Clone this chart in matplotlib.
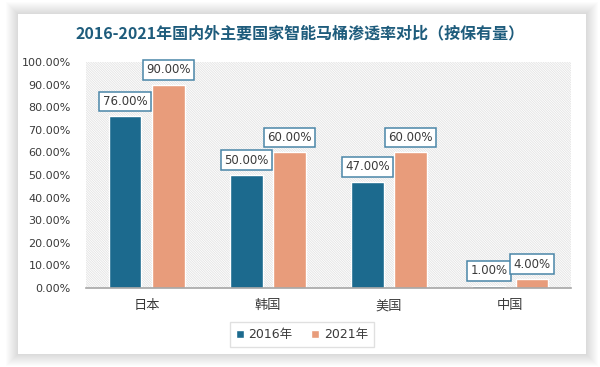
import numpy as np
import matplotlib.pyplot as plt
from matplotlib.patches import Rectangle

plt.rcParams['font.family'] = ['DejaVu Sans', 'Noto Sans CJK SC']
plt.rcParams['hatch.linewidth'] = 0.6

countries = ['日本', '韩国', '美国', '中国']
rate_2016 = [0.76, 0.50, 0.47, 0.01]
rate_2021 = [0.90, 0.60, 0.60, 0.04]
series_names = ['2016年', '2021年']
colors = ['#1c6a8e', '#e89c7b']

W, H = 600, 367
fig = plt.figure(figsize=(6, 3.67), dpi=100)
fig.patch.set_facecolor('white')

# card with soft shadow
cx0, cy0, cx1, cy1 = 18, 14, 586, 354
for i in range(12, 0, -1):
    fig.add_artist(Rectangle(((cx0 - i) / W, 1 - (cy1 + i) / H),
                             (cx1 - cx0 + 2 * i) / W, (cy1 - cy0 + 2 * i) / H,
                             transform=fig.transFigure, facecolor='black',
                             edgecolor='none', alpha=0.01, zorder=0))
fig.add_artist(Rectangle((cx0 / W, 1 - cy1 / H), (cx1 - cx0) / W, (cy1 - cy0) / H,
                         transform=fig.transFigure, facecolor='white',
                         edgecolor='none', zorder=0.5))

ax = fig.add_axes([86 / W, 79 / H, 485 / W, 226 / H])
ax.set_zorder(1)
ax.patch.set_facecolor('white')
ax.patch.set_edgecolor('#e3e3e3')
ax.patch.set_linewidth(0)
ax.patch.set_hatch('\\' * 14)

x = np.arange(len(countries))
bw = 0.27
off = 0.178
b1 = ax.bar(x - off, rate_2016, bw, color=colors[0], edgecolor='white', linewidth=1, label=series_names[0])
b2 = ax.bar(x + off, rate_2021, bw, color=colors[1], edgecolor='white', linewidth=1, label=series_names[1])

for bars, vals in [(b1, rate_2016), (b2, rate_2021)]:
    for r, v in zip(bars, vals):
        ax.annotate(f'{v * 100:.2f}%', (r.get_x() + r.get_width() / 2, v),
                    xytext=(0, 6), textcoords='offset points', ha='center', va='bottom',
                    fontsize=8.5, color='#3a3a3a',
                    bbox=dict(boxstyle='square,pad=0.28', facecolor='white',
                              edgecolor='#4a86a8', linewidth=1.1))

ax.set_xlim(-0.5, len(countries) - 0.5)
ax.set_ylim(0, 1)
ax.set_yticks(np.arange(0, 1.01, 0.1))
ax.set_yticklabels([f'{v * 100:.2f}%' for v in np.arange(0, 1.01, 0.1)], fontsize=8, color='#3a3a3a')
ax.set_xticks(x)
ax.set_xticklabels(countries, fontsize=9.5, color='#3a3a3a')
ax.tick_params(axis='both', length=0)
ax.tick_params(axis='y', pad=11)
ax.tick_params(axis='x', pad=8)
for s in ['top', 'right', 'left']:
    ax.spines[s].set_visible(False)
ax.spines['bottom'].set_color('#a6a6a6')
ax.spines['bottom'].set_linewidth(1.2)

fig.text(0.5, 1 - 33 / H, '2016-2021年国内外主要国家智能马桶渗透率对比（按保有量）',
         ha='center', va='center', fontsize=11.5, fontweight='bold', color='#1e5c7c',
         family=['Noto Sans CJK SC', 'DejaVu Sans'])

leg = fig.legend(handles=[b1, b2], labels=series_names, loc='center',
                 bbox_to_anchor=(302 / W, 32.5 / H), ncol=2, fontsize=9,
                 frameon=True, fancybox=False, edgecolor='#d9d9d9',
                 handlelength=0.6, handleheight=0.6, handletextpad=0.4,
                 columnspacing=1.5, borderpad=0.5)
leg.get_frame().set_linewidth(1)
for t in leg.get_texts():
    t.set_color('#3a3a3a')

fig.savefig('out.png', dpi=100)
